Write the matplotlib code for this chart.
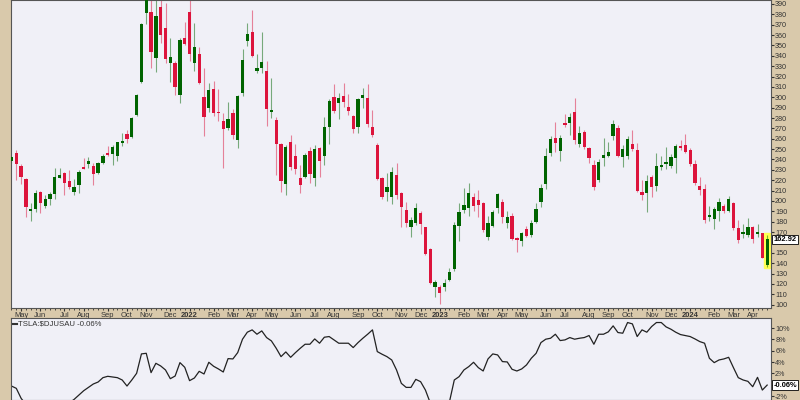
import numpy as np
import pandas as pd
import matplotlib
matplotlib.use("Agg")
import matplotlib.pyplot as plt
from matplotlib.patches import Rectangle
from matplotlib.transforms import blended_transform_factory

plt.rcParams['font.family'] = ['Liberation Sans', 'DejaVu Sans']

# weekly TSLA candles, first bar = week of 2021-04-19
start_week = '2021-04-19'
holidays = ['2021-05-31']  # monday holiday that moves the week start into June

opens = [238.2, 246.0, 234.1, 220.9, 190.7, 192.3, 208.4, 195.5, 202.2, 206.7,
         222.5, 226.7, 219.6, 208.4, 215.7, 232.5, 235.7, 234.1, 227.3, 236.3,
         246.0, 245.3, 243.7, 256.2, 264.6, 261.4, 282.9, 315.1, 380.9, 382.5,
         338.2, 386.7, 366.5, 332.7, 333.4, 302.2, 356.8, 381.9, 332.7, 341.7,
         300.6, 289.3, 307.7, 286.1, 277.5, 270.1, 284.5, 258.8, 303.8, 354.3,
         362.6, 325.7, 328.6, 325.3, 285.8, 278.1, 255.0, 216.4, 256.6, 243.4,
         221.9, 222.8, 248.2, 221.9, 251.4, 243.7, 271.0, 300.0, 294.2, 301.2,
         291.0, 282.0, 271.7, 299.6, 299.0, 271.0, 254.0, 222.5, 208.4, 204.2,
         225.1, 208.0, 191.3, 174.6, 178.5, 188.1, 174.6, 153.4, 116.8, 116.8,
         117.4, 123.8, 134.1, 176.2, 191.3, 192.9, 204.2, 200.9, 197.7, 165.6,
         175.9, 192.9, 199.4, 178.5, 185.5, 164.0, 161.7, 172.7, 167.2, 179.4,
         198.7, 216.4, 246.6, 261.1, 248.5, 275.5, 275.5, 285.5, 255.0, 266.8,
         250.8, 234.7, 220.2, 241.1, 243.4, 262.7, 270.1, 242.1, 243.4, 254.6,
         249.2, 209.0, 208.0, 222.8, 214.5, 233.1, 235.7, 234.1, 241.8, 253.0,
         254.0, 249.2, 235.7, 214.5, 211.6, 184.6, 182.6, 190.7, 195.2, 190.7,
         197.7, 174.3, 167.9, 167.2, 174.6, 167.9, 168.8, 138.3]
highs = [243.0, 249.2, 235.3, 221.9, 197.7, 210.6, 210.0, 205.8, 209.0, 231.5,
         232.1, 228.3, 229.9, 220.9, 229.9, 241.1, 242.7, 236.3, 237.9, 245.3,
         253.3, 254.0, 257.2, 265.2, 268.5, 281.3, 303.2, 371.9, 414.5, 399.0,
         398.0, 400.0, 390.6, 356.8, 335.0, 356.8, 372.9, 396.0, 371.3, 348.8,
         327.9, 313.5, 315.7, 307.7, 284.5, 295.8, 288.4, 302.2, 346.2, 371.3,
         384.2, 341.7, 363.3, 335.3, 318.3, 281.3, 255.6, 253.7, 263.6, 255.0,
         234.7, 246.0, 251.7, 254.0, 252.4, 280.7, 298.0, 312.8, 303.8, 314.1,
         302.8, 282.9, 299.6, 308.6, 312.8, 287.7, 256.2, 223.5, 226.7, 233.1,
         236.3, 209.0, 199.4, 184.2, 198.4, 190.7, 175.2, 154.4, 123.8, 119.0,
         124.5, 135.1, 180.1, 197.7, 212.2, 217.0, 208.0, 210.6, 199.4, 185.5,
         191.3, 207.4, 201.6, 190.7, 188.1, 165.0, 170.4, 175.9, 181.7, 197.7,
         216.4, 250.8, 262.7, 276.5, 263.6, 283.9, 284.5, 299.0, 272.3, 268.5,
         252.4, 239.5, 240.2, 260.4, 257.2, 278.1, 273.3, 254.0, 262.7, 268.5,
         256.2, 220.2, 225.1, 225.1, 246.0, 243.4, 252.4, 245.3, 254.6, 258.8,
         264.3, 250.8, 239.5, 223.5, 216.4, 195.2, 193.9, 202.6, 197.1, 204.8,
         199.4, 181.7, 177.8, 183.3, 175.9, 177.8, 169.5, 167.2]
lows = [236.5, 220.2, 216.1, 184.9, 181.0, 189.7, 188.7, 192.9, 196.1, 201.6,
        221.9, 205.8, 211.2, 205.8, 207.4, 231.0, 231.5, 215.1, 226.0, 235.7,
        243.7, 234.7, 238.6, 253.3, 256.2, 260.4, 281.9, 313.4, 371.0, 327.9,
        324.7, 352.7, 332.7, 315.1, 302.2, 294.2, 350.4, 335.3, 325.7, 312.5,
        262.7, 286.1, 282.0, 277.5, 231.5, 268.5, 259.5, 250.8, 301.2, 349.4,
        339.2, 323.1, 323.1, 272.3, 279.7, 225.1, 209.0, 205.8, 229.9, 226.0,
        207.4, 221.9, 217.0, 214.5, 223.5, 234.7, 254.6, 284.5, 278.7, 291.0,
        282.9, 265.2, 265.2, 289.3, 271.7, 261.4, 220.2, 202.2, 200.3, 197.1,
        201.6, 175.2, 175.2, 165.0, 176.9, 168.2, 147.9, 120.0, 107.1, 100.7,
        113.5, 122.9, 132.8, 161.7, 188.1, 185.8, 190.7, 184.9, 170.4, 162.4,
        174.6, 188.1, 179.1, 174.3, 162.4, 151.1, 156.9, 165.0, 165.6, 178.5,
        193.9, 211.2, 243.4, 247.6, 238.9, 271.7, 263.6, 255.0, 252.4, 249.8,
        236.3, 210.6, 218.6, 234.1, 242.1, 258.8, 242.1, 233.1, 240.2, 248.5,
        209.0, 200.9, 189.7, 204.2, 209.9, 229.9, 230.5, 231.5, 226.7, 249.2,
        246.0, 234.1, 215.4, 205.8, 179.1, 181.0, 173.0, 180.7, 188.1, 189.1,
        172.0, 159.2, 164.0, 165.6, 159.2, 165.0, 144.7, 136.7]
closes = [242.1, 235.3, 223.1, 194.5, 192.3, 207.4, 198.4, 201.9, 206.7, 222.8,
          225.4, 217.7, 213.5, 213.5, 228.3, 231.2, 238.2, 225.7, 236.3, 243.7,
          244.0, 252.4, 256.6, 257.8, 260.1, 279.7, 302.2, 370.7, 407.4, 344.0,
          378.4, 360.1, 337.2, 338.5, 309.6, 355.2, 351.1, 341.4, 348.8, 313.5,
          281.3, 307.0, 285.2, 284.5, 269.1, 278.7, 263.6, 301.2, 335.9, 361.0,
          340.1, 327.9, 334.0, 288.7, 287.7, 255.0, 219.6, 252.4, 233.1, 231.2,
          215.4, 244.3, 226.0, 249.8, 238.6, 271.0, 296.4, 287.1, 299.0, 295.8,
          287.1, 269.1, 298.3, 302.2, 273.9, 263.6, 221.2, 203.5, 213.2, 227.6,
          205.8, 194.5, 179.1, 181.7, 193.6, 177.8, 148.9, 121.3, 121.6, 111.6,
          121.3, 131.9, 176.9, 189.1, 195.8, 207.4, 195.5, 196.1, 172.0, 179.1,
          189.1, 206.4, 184.2, 184.2, 163.0, 162.4, 168.8, 166.6, 179.1, 192.3,
          212.9, 243.4, 259.5, 255.6, 261.1, 273.3, 280.7, 258.8, 265.9, 252.4,
          241.8, 213.8, 237.3, 244.3, 247.6, 273.9, 243.4, 249.8, 259.5, 249.8,
          209.9, 205.8, 219.3, 213.2, 233.7, 234.7, 237.6, 242.7, 253.0, 251.4,
          247.6, 235.7, 217.0, 210.6, 181.7, 186.5, 192.3, 199.4, 190.7, 201.6,
          173.6, 162.4, 169.8, 174.6, 163.4, 169.8, 145.4, 162.92]

# TSLA:$DJUSAU, percent
ratio = [-0.23, -0.64, -2.4, -3.5, -4.5, -5.0, -5.5, -5.0, -5.5, -5.0,
         -4.5, -4.0, -3.2, -2.6, -1.82, -1.06, -0.47, 0.13, 0.48, 1.25,
         1.49, 1.37, 1.25, 0.84, -0.23, 0.84, 2.02, 5.45, 5.56, 2.14,
         3.79, 3.32, 2.61, 1.07, 1.54, 3.91, 3.08, 0.72, 1.19, 2.37,
         1.9, 3.97, 3.26, 2.79, 2.25, 4.62, 4.56, 5.68, 8.05, 9.29,
         9.7, 8.93, 9.52, 8.34, 7.75, 6.45, 4.97, 5.8, 4.85, 5.68,
         6.45, 7.16, 7.16, 8.1, 7.34, 8.4, 8.52, 7.93, 7.34, 7.34,
         7.34, 6.57, 7.45, 8.22, 8.93, 9.7, 5.86, 5.39, 4.97, 4.38,
         2.61, 0.24, -0.47, -0.47, 0.95, 0.54, -0.94, -3.2, -4.5, -5.5,
         -5.0, -3.0, 0.84, 1.43, 2.61, 3.2, 3.97, 3.02, 2.43, 4.56,
         5.45, 5.27, 4.09, 4.03, 2.73, 2.43, 2.79, 3.5, 4.68, 5.56,
         7.45, 8.05, 8.22, 8.93, 7.81, 7.93, 8.34, 8.05, 8.22, 8.34,
         8.7, 7.16, 8.93, 8.93, 9.35, 10.41, 9.23, 9.11, 11.0, 10.76,
         8.52, 9.7, 9.29, 10.29, 11.0, 11.0, 10.23, 9.82, 9.29, 8.87,
         8.7, 8.52, 8.1, 7.63, 7.34, 4.68, 3.91, 4.38, 4.56, 4.85,
         3.02, 1.25, 0.84, 0.6, -0.35, 1.31, -0.94, -0.06]

price_ticks = list(range(100, 400, 10))
ratio_ticks = [-2, 0, 2, 4, 6, 8, 10]

TAN = '#d9c9ab'
BG = '#f0f0f7'
UP = '#006400'
DOWN = '#dc143c'
TXT = '#333333'

n = len(closes)
x = np.arange(n)
weeks = pd.date_range(start_week, periods=n, freq='7D')
first_day = [d + pd.Timedelta(days=1) if d.strftime('%Y-%m-%d') in holidays else d for d in weeks]

month_idx = []
month_lbl = []
for i in range(1, n):
    if first_day[i].month != first_day[i - 1].month:
        month_idx.append(i)
        if first_day[i].month == 1:
            month_lbl.append(str(first_day[i].year))
        else:
            month_lbl.append(first_day[i].strftime('%b'))

fig = plt.figure(figsize=(8, 4), dpi=100, facecolor=TAN)
ax = fig.add_axes([11 / 800, 1 - 308 / 400, 760 / 800, 308 / 400])
ax2 = fig.add_axes([11 / 800, 0, 760 / 800, 82 / 400])

# price panel
ax.set_facecolor(BG)
o = np.array(opens)
c = np.array(closes)
h = np.array(highs)
l = np.array(lows)
cols = np.where(c >= o, UP, DOWN)

ax.add_patch(Rectangle((n - 1 - 0.6, l[-1] - 1.5), 1.2, h[-1] - l[-1] + 3,
                       color='#ffff55', zorder=0.5))
ax.vlines(x, l, h, colors=cols, linewidth=0.8, alpha=0.5, zorder=2)
body = np.maximum(np.abs(c - o), 0.9)
ax.bar(x, body, bottom=np.minimum(o, c), width=0.68, color=cols, zorder=3)

ax.set_xlim(-0.1, 157.8)
ax.set_ylim(96.8, 393.8)
ax.yaxis.tick_right()
ax.set_yticks(price_ticks)
# the last-price box sits where the 160 label would be
ax.set_yticklabels(['' if abs(v - closes[-1]) < 5 else str(v) for v in price_ticks])
ax.tick_params(axis='y', labelsize=5.2, length=2, pad=1, colors=TXT)
ax.set_xticks(month_idx)
ax.set_xticklabels(month_lbl)
for t, s in zip(ax.get_xticklabels(), month_lbl):
    if s.isdigit():
        t.set_fontweight('bold')
        t.set_fontsize(6)
ax.set_xticks(x, minor=True)
ax.tick_params(axis='x', which='major', labelsize=5.4, length=2.5, pad=0.5, colors=TXT)
ax.tick_params(axis='x', which='minor', length=1.5, colors=TXT)
for sp in ax.spines.values():
    sp.set_color('#555555')
    sp.set_linewidth(0.8)

tr = blended_transform_factory(ax.transAxes, ax.transData)
ax.text(1.003, closes[-1], f'{closes[-1]:.2f}', transform=tr, fontsize=5.4,
        fontweight='bold', va='center', ha='left', color='black', zorder=10,
        bbox=dict(boxstyle='square,pad=0.15', fc='white', ec='black', lw=0.6),
        clip_on=False)

# relative strength panel
ax2.set_facecolor(BG)
ax2.plot(x, ratio, color='#222222', lw=0.9)
ax2.set_xlim(-0.1, 157.8)
ax2.set_ylim(-2.7, 11.8)
ax2.set_xticks([])
ax2.yaxis.tick_right()
ax2.set_yticks(ratio_ticks)
ax2.set_yticklabels(['' if v == 0 else f'{v}%' for v in ratio_ticks])
ax2.tick_params(axis='y', labelsize=5.2, length=2, pad=1, colors=TXT)
for sp in ax2.spines.values():
    sp.set_color('#555555')
    sp.set_linewidth(0.8)

ax2.plot([0.0026, 0.0079], [0.93, 0.93], transform=ax2.transAxes, color=TXT, lw=1.5)
ax2.text(0.0095, 0.93, r'TSLA:\$DJUSAU ' + f'{ratio[-1]:.2f}%', transform=ax2.transAxes,
         fontsize=5.6, va='center', ha='left', color=TXT)

tr2 = blended_transform_factory(ax2.transAxes, ax2.transData)
ax2.text(1.003, ratio[-1], f'{ratio[-1]:.2f}%', transform=tr2, fontsize=5.4,
         fontweight='bold', va='center', ha='left', color='black', zorder=10,
         bbox=dict(boxstyle='square,pad=0.15', fc='white', ec='black', lw=0.6),
         clip_on=False)

fig.savefig('out.png', dpi=100, facecolor=TAN)
